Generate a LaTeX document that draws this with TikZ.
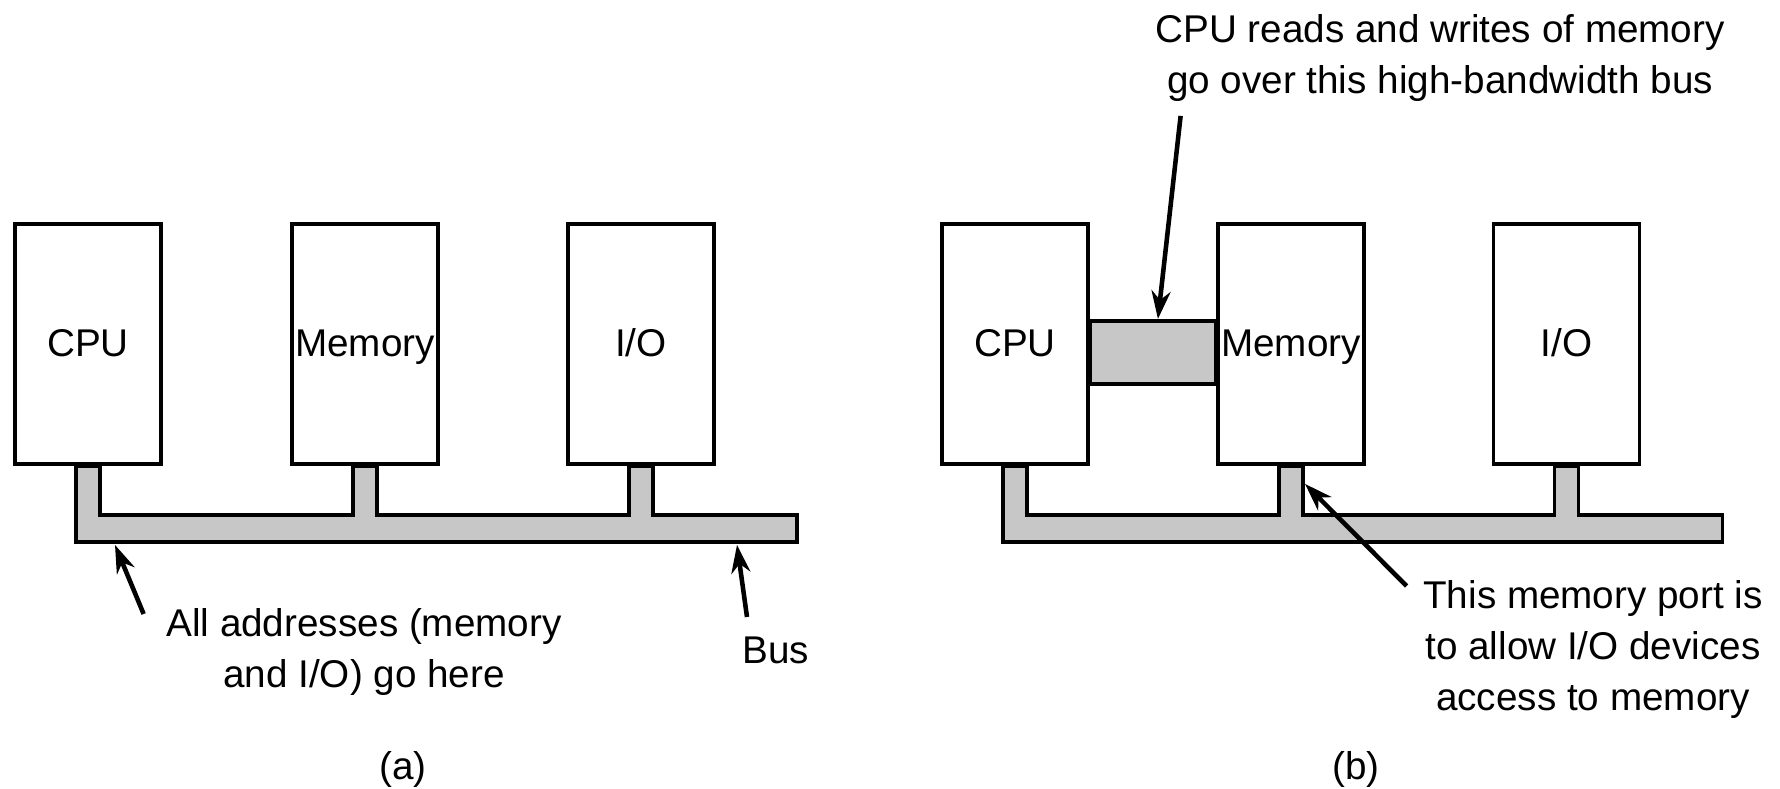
\documentclass[tikz,border=0pt]{standalone}
\usepackage{fontspec}
\setmainfont{Liberation Sans}
\usepackage{tikz}
\usetikzlibrary{arrows.meta,calc,positioning,backgrounds}
\tikzset{
  every node/.style={font=\fontsize{11}{14.5}\selectfont},
  unit/.style={draw,line width=1.1pt,fill=white,minimum width=1.46cm,minimum height=2.40cm,inner sep=0pt,text height=0.72em,text depth=0pt},
  buspath/.style={draw,line width=0.95pt,fill=black!22},
  pointer/.style={line width=1.3pt,-{Stealth[length=2.8mm,width=1.9mm,inset=0.9mm]}},
  lbl/.style={align=center,inner sep=0pt}
}
\newcommand{\busbar}[3]{%
  \draw[buspath] ([xshift=-1.2mm]#1.south) -- ++(0,-0.76)
    -| ([xshift=15.6mm,yshift=-4.9mm]#3.south)
    -| ([xshift=1.2mm]#3.south) -- ++(-0.24,0)
    |- ([xshift=1.2mm,yshift=-4.9mm]#2.south) -- ++(0,0.49) -- ++(-0.24,0) -- ++(0,-0.49)
    -| ([xshift=1.2mm]#1.south) -- cycle;}

\begin{document}
\begin{tikzpicture}
  \useasboundingbox (0,0) rectangle (17.8,7.89);
  % the three units of (a) and of (b)
  \foreach \n/\x/\t in {cpuA/0.88/CPU,memA/3.65/Memory,ioA/6.41/{I/O},cpuB/10.15/CPU,memB/12.91/Memory,ioB/15.665/{I/O}}{
    \node[unit] (\n) at (\x,4.45) {\t};
  }
  \begin{pgfonlayer}{background}
    \busbar{cpuA}{memA}{ioA}
    \busbar{cpuB}{memB}{ioB}
    \draw[buspath] ([yshift=2.3mm]cpuB.east) rectangle ([yshift=-4mm]memB.west);
  \end{pgfonlayer}
  % labels
  \node[lbl,anchor=north] (addrA) at (3.64,1.81) {All addresses (memory\\and I/O) go here};
  \node[lbl,anchor=north] (busA) at (7.76,1.53) {Bus};
  \node[lbl,anchor=north] (portB) at (15.93,2.09) {This memory port is\\to allow I/O devices\\access to memory};
  \node[lbl,anchor=north] (wideB) at (14.40,7.755) {CPU reads and writes of memory\\go over this high-bandwidth bus};
  \node[anchor=base] (capA) at (4.03,0.09) {(a)};
  \node[anchor=base] (capB) at (13.56,0.09) {(b)};
  % arrow tips
  \coordinate (addrTip) at ([shift={(0.27,-0.79)}]cpuA.south);
  \coordinate (busTip) at ([shift={(0.96,-0.79)}]ioA.south);
  \coordinate (portTip) at ([shift={(0.14,-0.18)}]memB.south);
  \coordinate (wideTip) at ([shift={(0.68,0.25)}]cpuB.east);
  \draw[pointer] ([shift={(-0.22,-0.06)}]addrA.north west) -- (addrTip);
  \draw[pointer] ([shift={(-0.29,0.19)}]busA.north) -- (busTip);
  \draw[pointer] ([shift={(-0.16,-0.06)}]portB.north west) -- (portTip);
  \draw[pointer] ([shift={(0.26,-0.14)}]wideB.south west) -- (wideTip);
\end{tikzpicture}
\end{document}
